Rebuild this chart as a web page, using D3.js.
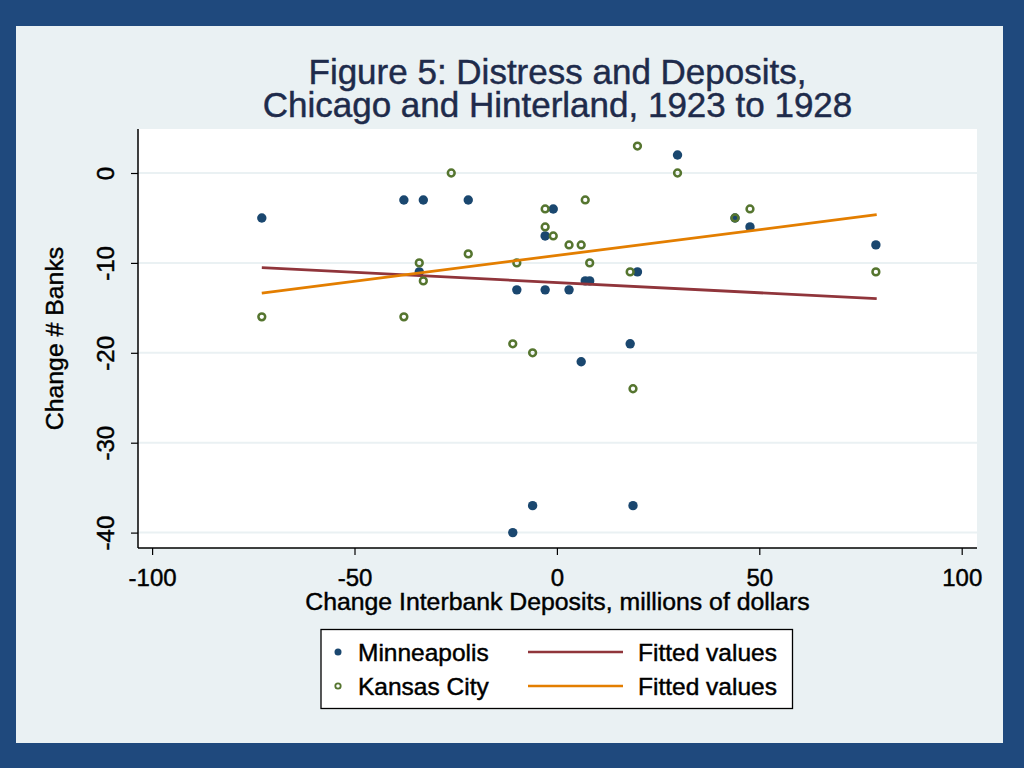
<!DOCTYPE html>
<html>
<head>
<meta charset="utf-8">
<script src="https://cdn.jsdelivr.net/npm/d3@7/dist/d3.min.js"></script>
<style>
  html, body { margin: 0; padding: 0; background: #1f497d; }
  svg { display: block; }
  text { font-family: "Liberation Sans", Arial, sans-serif; }
  .heavy { stroke-width: 0.45px; paint-order: fill; }
</style>
</head>
<body>
<svg id="chart" width="1024" height="768"></svg>
<script>
// ---- Data ----
const titleLines = ["Figure 5: Distress and Deposits,", "Chicago and Hinterland, 1923 to 1928"];
const xTicks = [-100, -50, 0, 50, 100];
const yTicks = [0, -10, -20, -30, -40];
const xTitle = "Change Interbank Deposits, millions of dollars";
const yTitle = "Change # Banks";

const minnX = [-72.9, -37.8, -33.0, -34.0, -21.9, -9.9, -2.9, 3.0, 6.0, -2.9, -0.9, 7.0, 8.1, 19.9, 18.1, 29.8, 44.0, 47.7, 78.8, -6.0, 18.8, -10.9];
const minnY = [-5, -3, -3, -11, -3, -13, -13, -13, -21, -7, -4, -12, -12, -11, -19, 2, -5, -6, -8, -37, -37, -40];

const kcX = [-72.9, -37.8, -34.0, -33.0, -26.1, -21.9, -9.9, -10.9, -6.0, -2.9, -2.9, -0.9, 3.0, 6.0, 7.0, 8.1, 18.1, 19.9, 29.8, 44.0, 47.7, 78.8, 18.8];
const kcY = [-16, -16, -10, -12, 0, -9, -10, -19, -20, -4, -6, -7, -8, -8, -3, -10, -11, 3, 0, -5, -4, -11, -24];

const fitX = [-72.9, 79.0];
const minnFit = [-10.53, -13.98];
const kcFit = [-13.35, -4.64];

const legendLabels = ["Minneapolis", "Kansas City", "Fitted values", "Fitted values"];

// ---- Colours ----
const NAVY = "#1a476f", GREEN = "#55752f", MAROON = "#90353b", ORANGE = "#e37e00";

const svg = d3.select("#chart");

// outer background and inner panel
svg.append("rect").attr("x", 0).attr("y", 0).attr("width", 1024).attr("height", 768).attr("fill", "#1f497d");
svg.append("rect").attr("x", 16).attr("y", 26).attr("width", 987).attr("height", 717).attr("fill", "#eaf1f3");

// plot region
const plot = { left: 138, right: 977, top: 129, bottom: 548 };
svg.append("rect").attr("x", plot.left).attr("y", plot.top)
  .attr("width", plot.right - plot.left).attr("height", plot.bottom - plot.top)
  .attr("fill", "#ffffff");

const x = d3.scaleLinear().domain([-100, 100]).range([152.1, 961.7]);
const y = d3.scaleLinear().domain([0, -40]).range([173, 532.6]);

// gridlines
svg.append("g").selectAll("line").data(yTicks).join("line")
  .attr("x1", plot.left).attr("x2", plot.right)
  .attr("y1", d => y(d)).attr("y2", d => y(d))
  .attr("stroke", "#eaf1f3").attr("stroke-width", 2);

const fmt = d => d3.format("d")(d).replace("−", "-");

// x axis
const xAxis = svg.append("g").attr("transform", `translate(0,${plot.bottom})`)
  .call(d3.axisBottom(x).tickValues(xTicks).tickSize(7).tickFormat(fmt));
xAxis.select(".domain").remove();
xAxis.selectAll(".tick line").attr("stroke", "#000").attr("stroke-width", 1.2);
xAxis.selectAll(".tick text").attr("font-size", 24).attr("fill", "#000").attr("stroke", "#000")
  .attr("class", "heavy")
  .attr("font-family", "'Liberation Sans', Arial, sans-serif")
  .attr("dy", null).attr("y", 38).text(fmt);
svg.append("line").attr("x1", plot.left).attr("x2", plot.right)
  .attr("y1", plot.bottom).attr("y2", plot.bottom).attr("stroke", "#000").attr("stroke-width", 1.5);

// y axis
const yAxis = svg.append("g").attr("transform", `translate(${plot.left},0)`)
  .call(d3.axisLeft(y).tickValues(yTicks).tickSize(7).tickFormat(fmt));
yAxis.select(".domain").remove();
yAxis.selectAll(".tick line").attr("stroke", "#000").attr("stroke-width", 1.2);
yAxis.selectAll(".tick text")
  .attr("font-size", 24).attr("fill", "#000").attr("stroke", "#000").attr("class", "heavy")
  .attr("font-family", "'Liberation Sans', Arial, sans-serif")
  .attr("x", null).attr("dy", null)
  .attr("text-anchor", "middle")
  .attr("transform", "translate(-24,0) rotate(-90)")
  .text(fmt);
svg.append("line").attr("x1", plot.left).attr("x2", plot.left)
  .attr("y1", plot.top).attr("y2", plot.bottom).attr("stroke", "#000").attr("stroke-width", 1.5);

// axis titles
svg.append("text").attr("x", (plot.left + plot.right) / 2).attr("y", 610)
  .attr("class", "heavy").attr("stroke", "#000")
  .attr("text-anchor", "middle").attr("font-size", 24.8).attr("fill", "#000").text(xTitle);
svg.append("text").attr("transform", `translate(63,${(plot.top + plot.bottom) / 2}) rotate(-90)`)
  .attr("class", "heavy").attr("stroke", "#000")
  .attr("text-anchor", "middle").attr("font-size", 24.8).attr("fill", "#000").text(yTitle);

// title
svg.append("g").selectAll("text").data(titleLines).join("text")
  .attr("x", (plot.left + plot.right) / 2).attr("y", (d, i) => 84 + i * 33)
  .attr("class", "heavy").attr("stroke", "#1e2b4b")
  .attr("text-anchor", "middle").attr("font-size", 35).attr("fill", "#1e2b4b").text(d => d);

// marks
const minnPts = minnX.map((v, i) => ({ x: v, y: minnY[i] }));
const kcPts = kcX.map((v, i) => ({ x: v, y: kcY[i] }));
const line = d3.line().x(d => x(d.x)).y(d => y(d.y));

svg.append("g").selectAll("circle").data(minnPts).join("circle")
  .attr("cx", d => x(d.x)).attr("cy", d => y(d.y)).attr("r", 4.7).attr("fill", NAVY);

svg.append("path").datum(fitX.map((v, i) => ({ x: v, y: minnFit[i] })))
  .attr("d", line).attr("fill", "none").attr("stroke", MAROON).attr("stroke-width", 2.8);

svg.append("g").selectAll("circle").data(kcPts).join("circle")
  .attr("cx", d => x(d.x)).attr("cy", d => y(d.y)).attr("r", 3.4)
  .attr("fill", "none").attr("stroke", GREEN).attr("stroke-width", 2.5);

svg.append("path").datum(fitX.map((v, i) => ({ x: v, y: kcFit[i] })))
  .attr("d", line).attr("fill", "none").attr("stroke", ORANGE).attr("stroke-width", 2.8);

// legend
const lg = svg.append("g");
lg.append("rect").attr("x", 321).attr("y", 629.5).attr("width", 471.5).attr("height", 79)
  .attr("fill", "#fff").attr("stroke", "#000").attr("stroke-width", 1.3);
const rows = [652, 686];
lg.append("circle").attr("cx", 338).attr("cy", rows[0]).attr("r", 3.5).attr("fill", NAVY);
lg.append("circle").attr("cx", 338).attr("cy", rows[1]).attr("r", 2.7)
  .attr("fill", "none").attr("stroke", GREEN).attr("stroke-width", 1.8);
lg.append("line").attr("x1", 528).attr("x2", 623).attr("y1", rows[0]).attr("y2", rows[0])
  .attr("stroke", MAROON).attr("stroke-width", 2.4);
lg.append("line").attr("x1", 528).attr("x2", 623).attr("y1", rows[1]).attr("y2", rows[1])
  .attr("stroke", ORANGE).attr("stroke-width", 2.4);
[[358, rows[0], legendLabels[0]], [358, rows[1], legendLabels[1]],
 [638, rows[0], legendLabels[2]], [638, rows[1], legendLabels[3]]].forEach(([tx, ty, t]) => {
  lg.append("text").attr("x", tx).attr("y", ty + 9).attr("class", "heavy").attr("stroke", "#000")
    .attr("font-size", 24.5).attr("fill", "#000").text(t);
});
</script>
</body>
</html>
